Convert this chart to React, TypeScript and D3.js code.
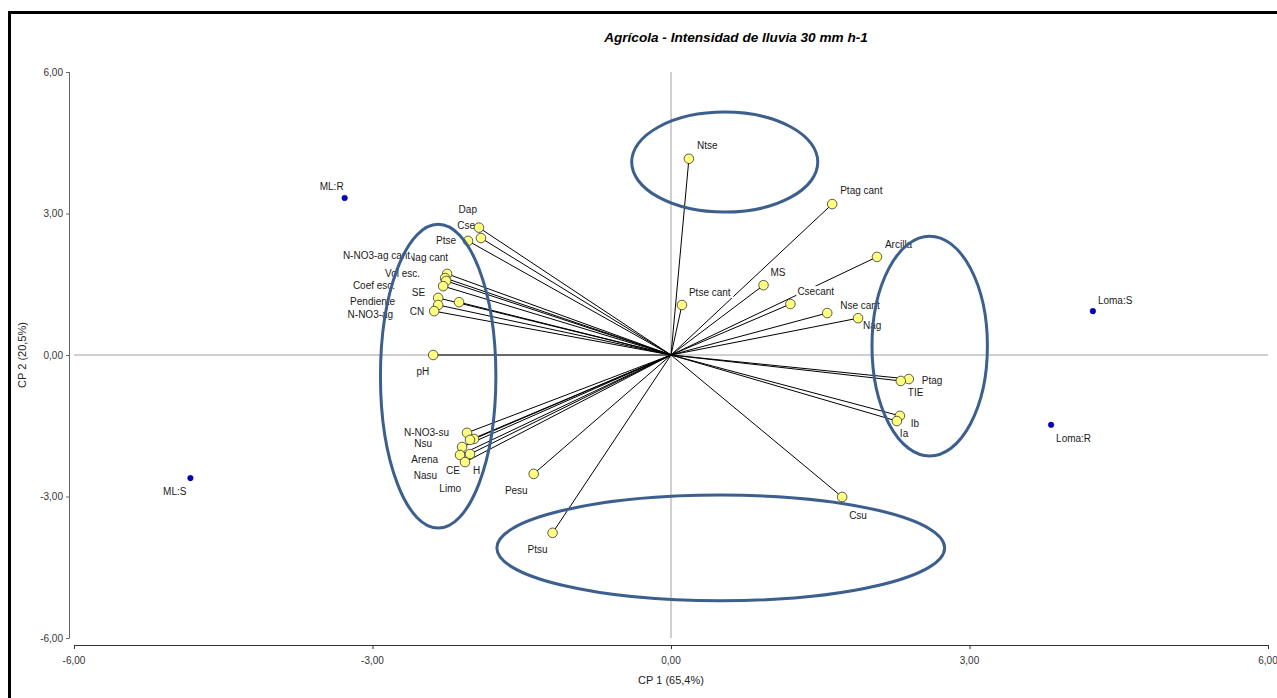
import React from "react";
import * as d3 from "d3";

// ---- data (biplot coordinates, CP1 / CP2) ----
const varNames = [
  "Ntse", "Ptag cant", "Arcilla", "MS", "Ptse cant", "Csecant", "Nse cant", "Nag",
  "Ptag", "TIE", "Ib", "Ia", "Csu", "Ptsu", "Pesu",
  "Dap", "Cse", "Ptse", "Nag cant", "N-NO3-ag cant", "Vol esc.", "Coef esc.", "SE",
  "Pendiente", "N-NO3-ag", "CN", "pH",
  "N-NO3-su", "Nsu", "H", "Arena", "Nasu", "CE", "Limo",
];
const varCP1 = [
  0.18, 1.62, 2.07, 0.93, 0.11, 1.20, 1.57, 1.88,
  2.39, 2.31, 2.30, 2.27, 1.72, -1.19, -1.38,
  -1.93, -1.91, -2.04, -2.25, -2.27, -2.26, -2.29, -2.13,
  -2.34, -2.34, -2.38, -2.39,
  -2.05, -1.98, -2.02, -2.10, -2.12, -2.02, -2.07,
];
const varCP2 = [
  4.16, 3.20, 2.08, 1.48, 1.06, 1.08, 0.89, 0.78,
  -0.51, -0.55, -1.29, -1.40, -3.01, -3.77, -2.52,
  2.70, 2.48, 2.42, 1.72, 1.63, 1.57, 1.46, 1.12,
  1.21, 1.06, 0.93, 0.0,
  -1.65, -1.78, -1.80, -1.95, -2.12, -2.10, -2.27,
];

const siteNames = ["ML:R", "ML:S", "Loma:S", "Loma:R"];
const siteCP1 = [-3.28, -4.83, 4.24, 3.82];
const siteCP2 = [3.33, -2.61, 0.93, -1.48];

const tickValues = [-6, -3, 0, 3, 6];
const title = "Agrícola - Intensidad de lluvia 30 mm h-1";
const xTitle = "CP 1 (65,4%)";
const yTitle = "CP 2 (20,5%)";

// annotation ellipses in data units: [cx, cy, rx, ry]
const ellipseCX = [0.54, -2.34, 2.6, 0.5];
const ellipseCY = [4.09, -0.45, 0.19, -4.09];
const ellipseRX = [0.935, 0.58, 0.58, 2.25];
const ellipseRY = [1.06, 3.22, 2.33, 1.12];

// ---- layout: label offsets (px) relative to point, [dx, dy, anchor] ----
const labelOffsets: Record<string, [number, number, string]> = {
  "Ntse": [8, -10, "start"],
  "Ptag cant": [8, -10, "start"],
  "Arcilla": [8, -9, "start"],
  "MS": [7, -9, "start"],
  "Ptse cant": [7, -9, "start"],
  "Csecant": [7, -9, "start"],
  "Nse cant": [13, -4, "start"],
  "Nag": [5, 11, "start"],
  "Ptag": [13, 5, "start"],
  "TIE": [7, 15, "start"],
  "Ib": [11, 11, "start"],
  "Ia": [3, 16, "start"],
  "Csu": [7, 22, "start"],
  "Ptsu": [-5, 20, "end"],
  "Pesu": [-6, 20, "end"],
  "Dap": [-2, -15, "end"],
  "Cse": [-6, -9, "end"],
  "Ptse": [-12, 3, "end"],
  "N-NO3-ag cant": [-35, -19, "end"],
  "Nag cant": [1, -13, "end"],
  "Vol esc.": [-26, -4, "end"],
  "Coef esc.": [-48, 3, "end"],
  "SE": [-34, -6, "end"],
  "Pendiente": [-43, 7, "end"],
  "N-NO3-ag": [-45, 13, "end"],
  "CN": [-10, 4, "end"],
  "pH": [-4, 20, "end"],
  "N-NO3-su": [-18, 3, "end"],
  "Nsu": [-42, 8, "end"],
  "H": [3, 34, "start"],
  "Arena": [-24, 16, "end"],
  "Nasu": [-23, 24, "end"],
  "CE": [-10, 20, "end"],
  "Limo": [-4, 30, "end"],
  "ML:R": [-1, -8, "end"],
  "ML:S": [-4, 17, "end"],
  "Loma:S": [5, -7, "start"],
  "Loma:R": [5, 17, "start"],
};

const W = 1277;
const H = 698;
const FONT = "'Liberation Sans', Arial, sans-serif";

const locale = d3.formatLocale({
  decimal: ",",
  thousands: ".",
  grouping: [3],
  currency: ["", ""],
  minus: "-",
});
const fmt = locale.format(".2f");

function textWidth(s: string, size: number) {
  // rough Arial width estimate for background box
  let w = 0;
  for (const ch of s) {
    if ("il.:,'|!".includes(ch)) w += 0.25;
    else if ("ftrI-() ".includes(ch)) w += 0.32;
    else if ("mwMW".includes(ch)) w += 0.85;
    else if (ch >= "A" && ch <= "Z") w += 0.68;
    else w += 0.54;
  }
  return w * size;
}

export default function App() {
  const x = d3.scaleLinear().domain([-6, 6]).range([74, 1268]);
  const y = d3.scaleLinear().domain([-6, 6]).range([638, 72]);
  const axisX = 69;
  const axisY = 645;

  const vars = varNames.map((n, i) => ({ name: n, px: x(varCP1[i]), py: y(varCP2[i]) }));
  const sites = siteNames.map((n, i) => ({ name: n, px: x(siteCP1[i]), py: y(siteCP2[i]) }));
  const ox = x(0);
  const oy = y(0);

  const renderLabel = (d: { name: string; px: number; py: number }) => {
    const [dx, dy, anchor] = labelOffsets[d.name] || [6, -6, "start"];
    const tx = d.px + dx;
    const ty = d.py + dy;
    const w = textWidth(d.name, 10);
    const bx = anchor === "end" ? tx - w : tx;
    return (
      <g key={"l" + d.name}>
        <rect x={bx - 1} y={ty - 9} width={w + 2} height={11} fill="#fff" />
        <text x={tx} y={ty} textAnchor={anchor as any} fontSize={10} fill="#1a1a1a" fontFamily={FONT}>
          {d.name}
        </text>
      </g>
    );
  };

  return (
    <svg
      width={W}
      height={H}
      style={{ position: "absolute", left: 0, top: 0, background: "#fff" }}
    >
      <rect x={0} y={0} width={W} height={H} fill="#fff" />
      {/* frame */}
      <rect x={9.5} y={12.5} width={W + 20} height={H + 20} fill="none" stroke="#000" strokeWidth={3} />

      {/* title */}
      <text
        x={736}
        y={42}
        textAnchor="middle"
        fontSize={13.6}
        fontWeight="bold"
        fontStyle="italic"
        fontFamily={FONT}
        fill="#000"
      >
        {title}
      </text>

      {/* zero lines */}
      <line x1={x(-6)} x2={x(6)} y1={oy} y2={oy} stroke="#a0a0a0" strokeWidth={1} />
      <line x1={ox} x2={ox} y1={y(6)} y2={y(-6)} stroke="#a0a0a0" strokeWidth={1} />

      {/* y axis */}
      <line x1={axisX + 0.5} x2={axisX + 0.5} y1={y(6)} y2={y(-6)} stroke="#666" strokeWidth={1} />
      {tickValues.map((t) => (
        <g key={"yt" + t}>
          <line x1={axisX - 3} x2={axisX + 0.5} y1={y(t) + 0.5} y2={y(t) + 0.5} stroke="#666" />
          <text x={63} y={y(t) + 3.5} textAnchor="end" fontSize={10} fill="#333" fontFamily={FONT}>
            {fmt(t)}
          </text>
        </g>
      ))}
      {/* x axis */}
      <line x1={x(-6)} x2={x(6)} y1={axisY + 0.5} y2={axisY + 0.5} stroke="#333" strokeWidth={1} />
      {tickValues.map((t) => (
        <g key={"xt" + t}>
          <line x1={x(t) + 0.5} x2={x(t) + 0.5} y1={axisY} y2={axisY + 4} stroke="#333" />
          <text x={x(t)} y={664} textAnchor="middle" fontSize={10} fill="#333" fontFamily={FONT}>
            {fmt(t)}
          </text>
        </g>
      ))}
      <text x={ox} y={684} textAnchor="middle" fontSize={11} fill="#222" fontFamily={FONT}>
        {xTitle}
      </text>
      <text
        transform={`translate(26,${oy}) rotate(-90)`}
        textAnchor="middle"
        fontSize={11}
        fill="#222"
        fontFamily={FONT}
      >
        {yTitle}
      </text>

      {/* vectors */}
      {vars.map((d) => (
        <line key={"v" + d.name} x1={ox} y1={oy} x2={d.px} y2={d.py} stroke="#000" strokeWidth={1} />
      ))}

      {/* labels */}
      {vars.map(renderLabel)}
      {sites.map(renderLabel)}

      {/* points */}
      {vars.map((d) => (
        <circle key={"p" + d.name} cx={d.px} cy={d.py} r={4.8} fill="#ffff80" stroke="#333" strokeWidth={0.8} />
      ))}
      {sites.map((d) => (
        <circle key={"s" + d.name} cx={d.px} cy={d.py} r={2.8} fill="#0000d0" stroke="#000060" strokeWidth={0.5} />
      ))}

      {/* ellipses */}
      {ellipseCX.map((cx, i) => (
        <ellipse
          key={"e" + i}
          cx={x(cx)}
          cy={y(ellipseCY[i])}
          rx={x(ellipseRX[i]) - x(0)}
          ry={y(0) - y(ellipseRY[i])}
          fill="none"
          stroke="#3c5f8e"
          strokeWidth={3}
        />
      ))}
    </svg>
  );
}
